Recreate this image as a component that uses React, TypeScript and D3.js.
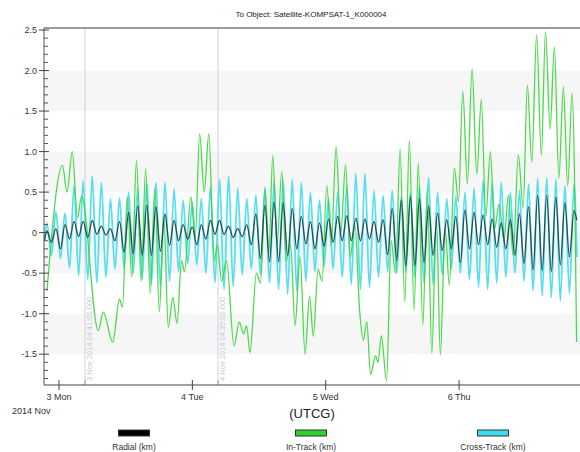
import React from 'react';
import * as d3 from 'd3';

const title = 'To Object: Satellite-KOMPSAT-1_K000004';

// hours since 2014-11-03 00:00 UTCG, orbit extrema (peak / trough alternating)
const orbitT = [
  -2.6,
  -2.19, -1.38, -0.56, 0.26, 1.08, 1.90, 2.71, 3.53, 4.35, 5.17,
  5.99, 6.80, 7.62, 8.44, 9.26, 10.07, 10.89, 11.71, 12.53, 13.35,
  14.16, 14.98, 15.80, 16.62, 17.44, 18.25, 19.07, 19.89, 20.71, 21.52,
  22.34, 23.16, 23.98, 24.80, 25.61, 26.43, 27.25, 28.07, 28.89, 29.70,
  30.52, 31.34, 32.16, 32.97, 33.79, 34.61, 35.43, 36.25, 37.06, 37.88,
  38.70, 39.52, 40.34, 41.15, 41.97, 42.79, 43.61, 44.42, 45.24, 46.06,
  46.88, 47.70, 48.51, 49.33, 50.15, 50.97, 51.79, 52.60, 53.42, 54.24,
  55.06, 55.87, 56.69, 57.51, 58.33, 59.15, 59.96, 60.78, 61.60, 62.42,
  63.24, 64.05, 64.87, 65.69, 66.51, 67.32, 68.14, 68.96, 69.78, 70.60,
  71.41, 72.23, 73.05, 73.87, 74.69, 75.50, 76.32, 77.14, 77.96, 78.77,
  79.59, 80.41, 81.23, 82.05, 82.86, 83.68, 84.50, 85.32, 86.14, 86.95,
  87.77, 88.59, 89.41, 90.22, 91.04, 91.86, 92.68,
  93.2,
];

const radialKm = [
  -0.1,
  0.02, -0.12, 0.05, -0.2, 0.1, -0.08, 0.14, -0.05, 0.14, -0.06,
  0.15, -0.02, 0.08, -0.03, 0.05, -0.1, 0.14, -0.24, 0.25, -0.26,
  0.33, -0.28, 0.34, -0.28, 0.32, -0.23, 0.23, -0.16, 0.15, -0.1,
  0.1, -0.08, 0.07, -0.15, 0.1, -0.08, 0.15, -0.02, 0.15, -0.02,
  0.08, -0.06, 0.05, -0.05, 0.1, -0.15, 0.23, -0.32, 0.34, -0.36,
  0.38, -0.36, 0.37, -0.28, 0.3, -0.2, 0.2, -0.14, 0.14, -0.2,
  0.12, -0.17, 0.17, -0.12, 0.2, -0.1, 0.21, -0.1, 0.18, -0.1,
  0.17, -0.08, 0.14, -0.12, 0.16, -0.27, 0.3, -0.34, 0.4, -0.41,
  0.44, -0.41, 0.42, -0.37, 0.33, -0.28, 0.24, -0.22, 0.16, -0.2,
  0.2, -0.37, 0.28, -0.2, 0.25, -0.15, 0.22, -0.15, 0.17, -0.18,
  0.12, -0.2, 0.16, -0.28, 0.23, -0.38, 0.32, -0.46, 0.46, -0.47,
  0.46, -0.48, 0.44, -0.4, 0.37, -0.3, 0.27,
  0.15,
];

const crossTrackKm = [
  -0.1,
  0.12, -0.28, 0.26, -0.32, 0.24, -0.44, 0.58, -0.53, 0.64, -0.58,
  0.70, -0.62, 0.62, -0.55, 0.42, -0.45, 0.43, -0.44, 0.50, -0.50,
  0.55, -0.58, 0.62, -0.64, 0.62, -0.66, 0.62, -0.60, 0.54, -0.48,
  0.40, -0.38, 0.38, -0.40, 0.42, -0.50, 0.56, -0.62, 0.66, -0.70,
  0.70, -0.66, 0.55, -0.52, 0.42, -0.45, 0.46, -0.52, 0.56, -0.62,
  0.63, -0.70, 0.65, -0.76, 0.66, -0.72, 0.62, -0.60, 0.50, -0.48,
  0.40, -0.42, 0.42, -0.45, 0.50, -0.55, 0.58, -0.64, 0.73, -0.70,
  0.73, -0.68, 0.52, -0.55, 0.46, -0.48, 0.52, -0.50, 0.45, -0.48,
  0.50, -0.55, 0.58, -0.62, 0.68, -0.64, 0.50, -0.52, 0.42, -0.45,
  0.45, -0.50, 0.50, -0.58, 0.55, -0.67, 0.64, -0.70, 0.62, -0.62,
  0.62, -0.55, 0.50, -0.50, 0.52, -0.60, 0.60, -0.72, 0.67, -0.78,
  0.68, -0.80, 0.66, -0.84, 0.58, -0.75, 0.60,
  -0.3,
];

const inTrackT = [
  -2.16, 0.63, 1.44, 2.39, 3.33, 4.05, 7.07, 7.97, 9.67, 10.89,
  11.43, 12.28, 13.09, 13.95, 14.78, 15.59, 16.42, 17.24, 18.05, 18.86,
  19.67, 20.48, 21.24, 22.05, 22.59, 23.72, 24.53, 25.31, 26.14, 26.96,
  27.9, 28.53, 29.25, 30.15, 31.5, 32.45, 33.21, 33.75, 34.38, 35.51,
  36.27, 37.08, 37.76, 38.47, 39.24, 40.09, 40.86, 41.67, 42.48, 43.38,
  44.28, 45.09, 45.77, 46.62, 47.34, 48.19, 49.0, 49.86, 50.71, 51.57,
  52.42, 53.24, 54.09, 54.77, 55.39, 56.07, 56.97, 57.42, 58.0, 58.95,
  59.76, 60.57, 61.38, 62.23, 63.05, 63.9, 64.66, 65.47, 66.29, 67.09,
  67.91, 68.63, 69.48, 70.25, 71.14, 71.89, 72.67, 73.49, 74.34, 75.19,
  76.0, 76.81, 77.63, 78.39, 79.2, 80.06, 80.87, 81.72, 82.67, 83.52,
  84.29, 85.09, 85.95, 86.8, 87.55, 88.38, 89.15, 89.96, 90.77, 91.55,
  92.34, 93.15,
];

const inTrackKm = [
  -0.72, 0.83, 0.5, 1.0, 0.18, 0.45, -1.21, -0.98, -1.35, -0.82,
  -0.92, 0.44, -0.55, 0.89, -0.6, 0.79, -0.75, 0.55, -0.98, 0.2,
  -1.17, -0.8, -1.12, -0.35, -0.48, 0.44, -0.05, 1.22, 0.5, 1.22,
  -0.35, -0.15, -0.6, -0.35, -1.4, -1.1, -1.25, -1.15, -1.48, -0.5,
  -0.62, 0.54, -0.25, 0.95, -0.15, 0.75, -0.35, -0.15, -1.15, -0.3,
  -1.5, -0.78, -1.28, -0.45, -0.6, 0.58, -0.15, 1.06, 0.0, 0.84,
  -0.3, 0.1, -0.95, -1.33, -1.1, -1.75, -1.52, -1.6, -1.27, -1.83,
  -0.1, -0.5, 1.03, -0.86, 1.14, -0.96, 0.86, -1.14, 0.54, -1.49,
  0.2, -1.51, 0.05, -0.65, 0.8, 0.38, 1.75, 0.6, 2.02, 0.72,
  1.64, 0.2, 1.0, 0.05, 0.35, -0.1, 0.46, -0.28, 0.96, 0.3,
  1.82, 0.87, 2.44, 0.95, 2.48, 1.28, 2.29, 0.67, 1.8, 0.58,
  1.72, -1.35,
];

const yTickValues = [2.5, 2.0, 1.5, 1.0, 0.5, 0, -0.5, -1.0, -1.5];
const yTickLabels = ['2.5', '2.0', '1.5', '1.0', '0.5', '0', '-0.5', '-1.0', '-1.5'];
const dayTickHours = [0, 24, 48, 72];
const dayTickLabels = ['3 Mon', '4 Tue', '5 Wed', '6 Thu'];
const bands: [number, number][] = [[1.5, 2.0], [0.5, 1.0], [-0.5, 0], [-1.5, -1.0]];
const eventHours = [4.68, 28.62];
const eventLabels = ['3 Nov 2014 04:41:00.000', '4 Nov 2014 04:35:00.000'];
const legendNames = ['Radial (km)', 'In-Track (km)', 'Cross-Track (km)'];
const legendColors = ['#000000', '#2fd12f', '#3fdcee'];

const W = 580;
const H = 452;
const left = 44;
const right = 578;
const top = 28;
const bottom = 385;
const FONT = '"Liberation Sans", Arial, sans-serif';

const t0 = Date.UTC(2014, 10, 3);
const toDate = (h: number) => new Date(t0 + h * 3600000);

export default function App() {
  const x = d3.scaleUtc().domain([toDate(-2.7), toDate(93.4)]).range([left, right]);
  const y = d3.scaleLinear().domain([-1.88, 2.525]).range([bottom, top]);

  const line = d3
    .line<[number, number]>()
    .x((d) => x(toDate(d[0])))
    .y((d) => y(d[1]))
    .curve(d3.curveMonotoneX);

  const radialPath = line(orbitT.map((t, i) => [t, radialKm[i]] as [number, number])) || '';
  const crossPath = line(orbitT.map((t, i) => [t, crossTrackKm[i]] as [number, number])) || '';
  const inPath = line(inTrackT.map((t, i) => [t, inTrackKm[i]] as [number, number])) || '';

  const minor = d3.range(-18, 26).map((v) => v / 10).filter((v) => Math.abs(Math.round(v * 2) - v * 2) > 1e-6);

  const legendCenters = [134, 311, 493];

  return (
    <svg
      width={W}
      height={H}
      style={{ position: 'absolute', left: 0, top: 0, background: '#fff' }}
      fontFamily={FONT}
    >
      <defs>
        <clipPath id="plot">
          <rect x={left} y={top} width={right - left + 2} height={bottom - top} />
        </clipPath>
      </defs>
      <rect x={0} y={0} width={W} height={H} fill="#fff" />
      <text x={311} y={17} fontSize={8} textAnchor="middle" fill="#222">
        {title}
      </text>

      {bands.map(([a, b], i) => (
        <rect key={i} x={left} y={y(b)} width={W - left} height={y(a) - y(b)} fill="#f6f6f6" />
      ))}

      {eventHours.map((h, i) => (
        <g key={i}>
          <line x1={x(toDate(h))} x2={x(toDate(h))} y1={top} y2={bottom} stroke="#d2d2d2" strokeWidth={1} />
          <line x1={x(toDate(h))} x2={x(toDate(h))} y1={bottom - 5} y2={bottom} stroke="#999" strokeWidth={1} />
          <text
            transform={`translate(${x(toDate(h)) + 6.5},${bottom - 4}) rotate(-90)`}
            fontSize={7.5}
            fill="#c4c4dc"
          >
            {eventLabels[i]}
          </text>
        </g>
      ))}

      <g clipPath="url(#plot)" fill="none" strokeLinejoin="round">
        <path d={crossPath} stroke="#45dbee" strokeWidth={1.8} opacity={0.9} />
        <path d={inPath} stroke="#3ad63a" strokeWidth={1.3} opacity={0.9} />
        <path d={radialPath} stroke="#1f474c" strokeWidth={1.3} opacity={0.95} />
      </g>

      <line x1={left} x2={W} y1={top} y2={top} stroke="#9a9a9a" strokeWidth={2} />
      <line x1={left} x2={left} y1={top} y2={bottom} stroke="#555" strokeWidth={1} />
      <line x1={left} x2={W} y1={bottom} y2={bottom} stroke="#444" strokeWidth={1} />

      {yTickValues.map((v, i) => (
        <g key={i}>
          <line x1={left - 5} x2={left + 5} y1={y(v)} y2={y(v)} stroke="#444" strokeWidth={1} />
          <text x={left - 7} y={y(v) + 3} fontSize={9} textAnchor="end" fill="#333">
            {yTickLabels[i]}
          </text>
        </g>
      ))}
      {minor.map((v, i) => (
        <line key={i} x1={left} x2={left + 4} y1={y(v)} y2={y(v)} stroke="#555" strokeWidth={1} />
      ))}

      {dayTickHours.map((h, i) => (
        <g key={i}>
          <line x1={x(toDate(h))} x2={x(toDate(h))} y1={bottom - 5} y2={bottom + 5} stroke="#444" strokeWidth={1} />
          <text x={x(toDate(h))} y={400} fontSize={9} textAnchor="middle" fill="#333">
            {dayTickLabels[i]}
          </text>
        </g>
      ))}
      <text x={12} y={414} fontSize={9} fill="#333">
        2014 Nov
      </text>
      <text x={312} y={418} fontSize={13} textAnchor="middle" fill="#222">
        (UTCG)
      </text>

      {legendNames.map((n, i) => (
        <g key={i}>
          <rect
            x={legendCenters[i] - 15.5}
            y={430}
            width={31}
            height={6}
            fill={legendColors[i]}
            stroke="#333"
            strokeWidth={1}
          />
          <text x={legendCenters[i]} y={450} fontSize={8.5} textAnchor="middle" fill="#333">
            {n}
          </text>
        </g>
      ))}
    </svg>
  );
}
